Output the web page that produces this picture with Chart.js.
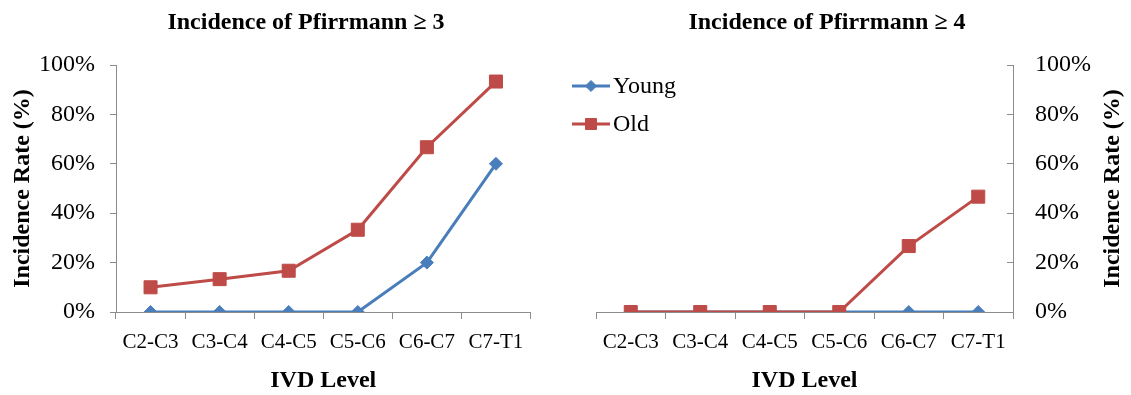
<!DOCTYPE html>
<html>
<head>
<meta charset="utf-8">
<script src="https://cdn.jsdelivr.net/npm/chart.js@4"></script>
<style>
  html, body { margin: 0; padding: 0; background: #ffffff; }
  #wrap { position: relative; width: 1131px; height: 395px; overflow: hidden; background: #fff; }
  canvas { position: absolute; top: 0; }
  #c1 { left: 0; }
  #c2 { left: 560px; }
</style>
</head>
<body>
<div id="wrap">
  <canvas id="c1" width="560" height="395"></canvas>
  <canvas id="c2" width="571" height="395"></canvas>
</div>
<script>
// ---- data ----
const categories = ['C2-C3', 'C3-C4', 'C4-C5', 'C5-C6', 'C6-C7', 'C7-T1'];
const seriesNames = ['Young', 'Old'];
const young3 = [0, 0, 0, 0, 20, 60];
const old3 = [10, 13.3, 16.7, 33.3, 66.7, 93.3];
const young4 = [0, 0, 0, 0, 0, 0];
const old4 = [0, 0, 0, 0, 26.7, 46.7];
const yTicks = [0, 20, 40, 60, 80, 100];
const titleLeft = 'Incidence of Pfirrmann \u2265 3';
const titleRight = 'Incidence of Pfirrmann \u2265 4';
const xTitle = 'IVD Level';
const yTitle = 'Incidence Rate (%)';

// ---- styles ----
const SERIF = '"Liberation Serif", "Times New Roman", serif';
const BLUE = '#4A7EBB';
const RED = '#BE4B48';
const AXIS = '#8C8C8C';

function datasets(y, o) {
  return [
    { label: seriesNames[0], data: y, borderColor: BLUE, backgroundColor: BLUE,
      borderWidth: 3, pointStyle: 'rectRot', pointRadius: 6.5, pointBorderWidth: 1,
      pointBackgroundColor: BLUE, pointBorderColor: BLUE, tension: 0, order: 1 },
    { label: seriesNames[1], data: o, borderColor: RED, backgroundColor: RED,
      borderWidth: 3, pointStyle: 'rect', pointRadius: 9.2, pointBorderWidth: 1,
      pointBackgroundColor: RED, pointBorderColor: RED, tension: 0, order: 0 }
  ];
}

const titlePlugin = {
  id: 'panelTitle',
  afterDraw(chart, args, opts) {
    const ctx = chart.ctx;
    ctx.save();
    ctx.font = 'bold 24px ' + SERIF;
    ctx.fillStyle = '#000';
    ctx.textAlign = 'center';
    ctx.textBaseline = 'middle';
    ctx.fillText(opts.text, opts.x, opts.y);
    ctx.restore();
  }
};

const rightTitlePlugin = {
  id: 'rightYTitle',
  afterDraw(chart, args, opts) {
    if (!opts || !opts.text) return;
    const ctx = chart.ctx;
    const a = chart.chartArea;
    ctx.save();
    ctx.font = 'bold 24px ' + SERIF;
    ctx.fillStyle = '#000';
    ctx.textAlign = 'center';
    ctx.textBaseline = 'middle';
    ctx.translate(opts.x, (a.top + a.bottom) / 2);
    ctx.rotate(-Math.PI / 2);
    ctx.fillText(opts.text, 0, 0);
    ctx.restore();
  }
};

const legendPlugin = {
  id: 'customLegend',
  afterDraw(chart, args, opts) {
    if (!opts || !opts.show) return;
    const ctx = chart.ctx;
    const rows = [opts.y0, opts.y1];
    chart.data.datasets.forEach((ds, i) => {
      const y = rows[i];
      ctx.save();
      ctx.strokeStyle = ds.borderColor;
      ctx.lineWidth = 3;
      ctx.beginPath();
      ctx.moveTo(opts.x, y);
      ctx.lineTo(opts.x + 38, y);
      ctx.stroke();
      ctx.fillStyle = ds.pointBackgroundColor;
      ctx.strokeStyle = ds.pointBorderColor;
      ctx.lineWidth = 1;
      Chart.helpers.drawPoint(ctx, {
        pointStyle: ds.pointStyle, radius: ds.pointRadius * 0.85, borderWidth: 1, rotation: 0
      }, opts.x + 19, y);
      ctx.font = '24px ' + SERIF;
      ctx.fillStyle = '#000';
      ctx.textAlign = 'left';
      ctx.textBaseline = 'middle';
      ctx.fillText(ds.label, opts.x + 41, y + 1);
      ctx.restore();
    });
  }
};

function makeOptions(side, padding, yWidth, titleOpts, extra) {
  const isLeft = side === 'left';
  return {
    responsive: false,
    animation: false,
    devicePixelRatio: 1,
    layout: { padding: padding },
    plugins: {
      legend: { display: false },
      tooltip: { enabled: false },
      title: { display: false },
      panelTitle: titleOpts,
      rightYTitle: extra.rightYTitle || {},
      customLegend: extra.legend || {}
    },
    scales: {
      x: {
        type: 'category',
        offset: true,
        grid: { display: true, offset: true, drawOnChartArea: false, drawTicks: true,
                tickLength: 7, color: AXIS, lineWidth: 1 },
        border: { display: true, color: AXIS, width: 1 },
        ticks: { color: '#000', font: { family: SERIF, size: 21 }, padding: 11,
                 maxRotation: 0, autoSkip: false },
        title: { display: true, text: xTitle, color: '#000',
                 font: { family: SERIF, size: 24, weight: 'bold' },
                 padding: { top: 0, bottom: 0 } },
        afterFit(scale) { scale.height = 83; }
      },
      y: {
        position: side,
        min: 0, max: 100,
        afterBuildTicks(scale) { scale.ticks = yTicks.map(v => ({ value: v })); },
        grid: { display: true, drawOnChartArea: false, drawTicks: true,
                tickLength: isLeft ? 6 : -6, color: AXIS, lineWidth: 1 },
        border: { display: true, color: AXIS, width: 1 },
        ticks: { color: '#000', font: { family: SERIF, size: 24 },
                 padding: isLeft ? 15 : 28,
                 callback: v => v + '%' },
        title: { display: isLeft, text: yTitle, color: '#000',
                 font: { family: SERIF, size: 24, weight: 'bold' },
                 padding: { top: 8, bottom: 0 } },
        afterFit(scale) { scale.width = yWidth; }
      }
    }
  };
}

new Chart(document.getElementById('c1'), {
  type: 'line',
  data: { labels: categories, datasets: datasets(young3, old3) },
  options: makeOptions('left', { top: 65, right: 29.5, left: 0, bottom: 0 }, 116,
    { text: titleLeft, x: 306, y: 23 }, {}),
  plugins: [titlePlugin, rightTitlePlugin, legendPlugin]
});

new Chart(document.getElementById('c2'), {
  type: 'line',
  data: { labels: categories, datasets: datasets(young4, old4) },
  options: makeOptions('right', { top: 65, right: 0, left: 36, bottom: 0 }, 118,
    { text: titleRight, x: 827 - 560, y: 23 },
    { rightYTitle: { text: yTitle, x: 1113 - 560 },
      legend: { show: true, x: 572 - 560, y0: 86, y1: 124 } }),
  plugins: [titlePlugin, rightTitlePlugin, legendPlugin]
});
</script>
</body>
</html>
